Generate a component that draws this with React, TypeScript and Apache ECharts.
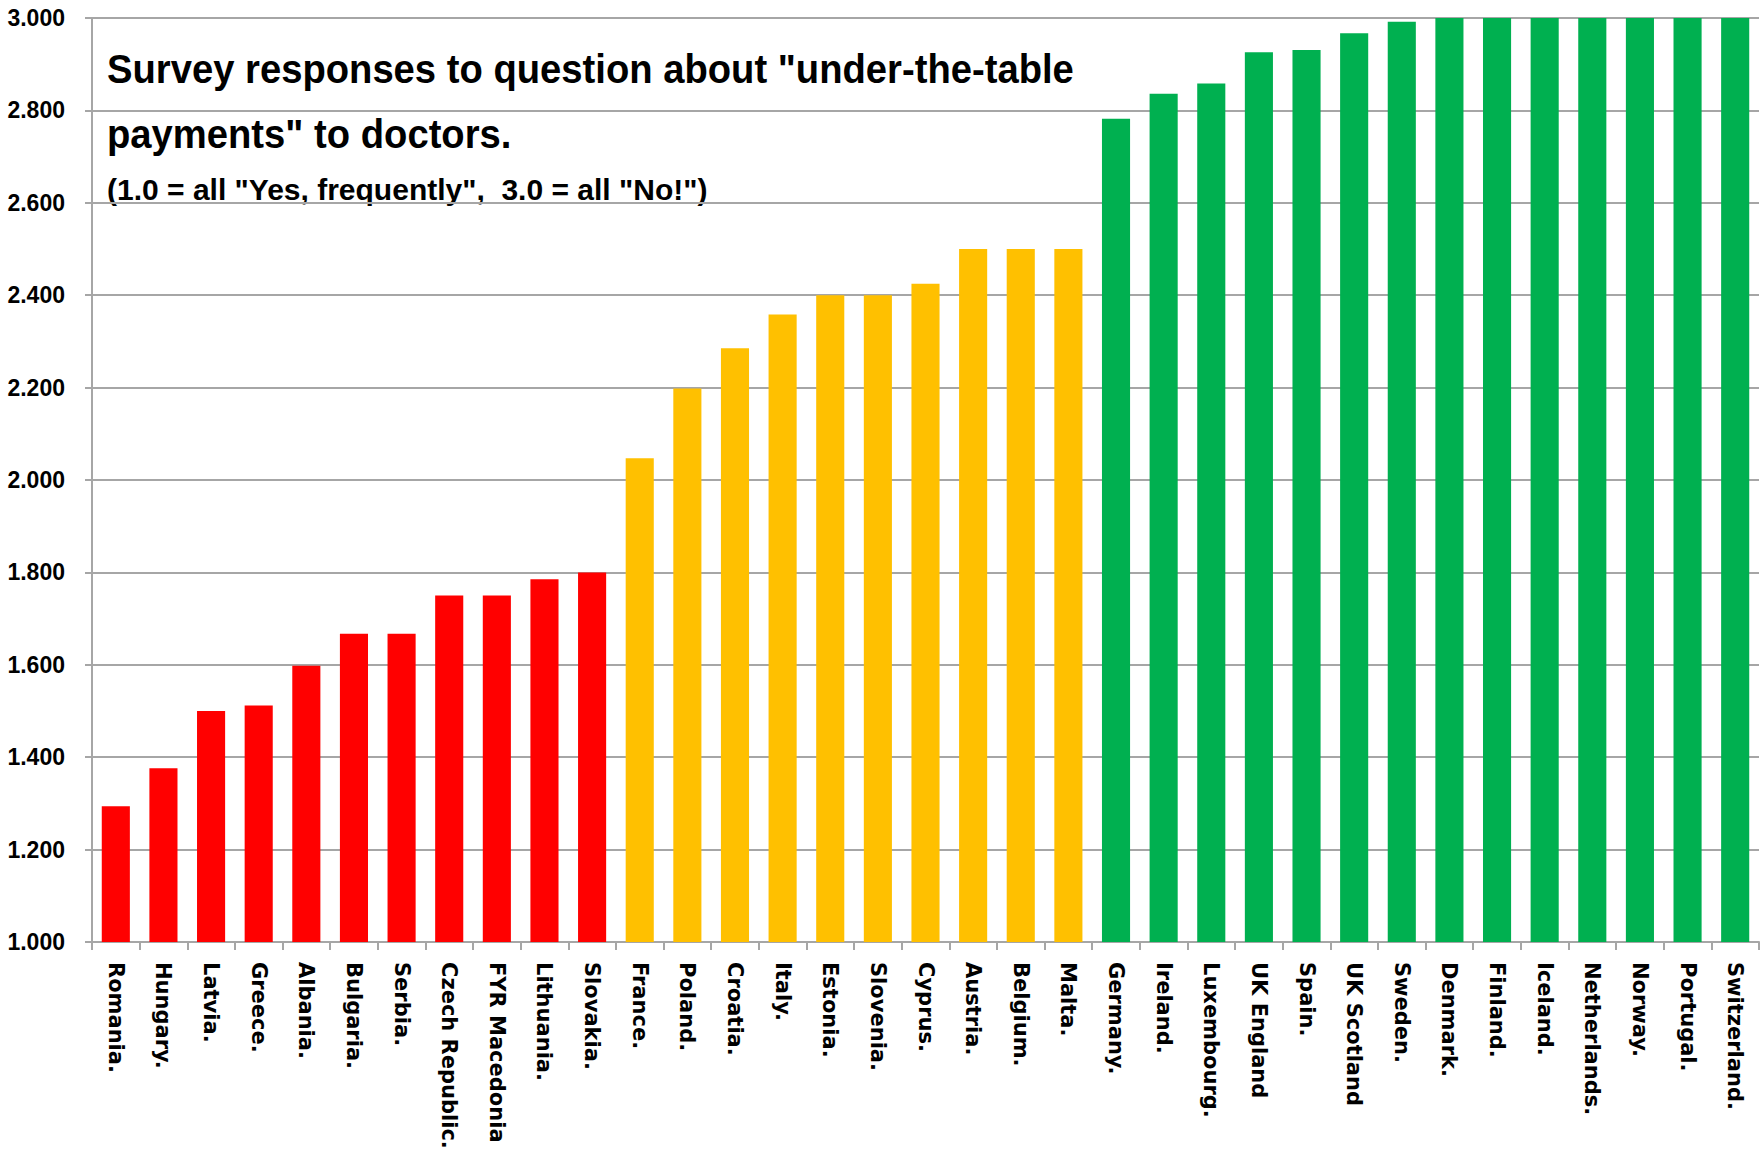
import React, { useEffect, useRef } from "react";
import * as echarts from "echarts";

const categories = [
  "Romania.", "Hungary.", "Latvia.", "Greece.", "Albania.", "Bulgaria.", "Serbia.",
  "Czech Republic.", "FYR Macedonia", "Lithuania.", "Slovakia.",
  "France.", "Poland.", "Croatia.", "Italy.", "Estonia.", "Slovenia.", "Cyprus.",
  "Austria.", "Belgium.", "Malta.",
  "Germany.", "Ireland.", "Luxembourg.", "UK England", "Spain.", "UK Scotland",
  "Sweden.", "Denmark.", "Finland.", "Iceland.", "Netherlands.", "Norway.",
  "Portugal.", "Switzerland.",
];

const values = [
  1.294, 1.376, 1.5, 1.512, 1.598, 1.667, 1.667, 1.75, 1.75, 1.785, 1.8,
  2.047, 2.198, 2.285, 2.358, 2.4, 2.4, 2.425, 2.5, 2.5, 2.5,
  2.782, 2.836, 2.858, 2.926, 2.931, 2.967, 2.992, 3.0, 3.0, 3.0, 3.0, 3.0, 3.0, 3.0,
];

// tier of each country: 0 = red, 1 = amber, 2 = green
const tiers = [
  0, 0, 0, 0, 0, 0, 0, 0, 0, 0, 0,
  1, 1, 1, 1, 1, 1, 1, 1, 1, 1,
  2, 2, 2, 2, 2, 2, 2, 2, 2, 2, 2, 2, 2, 2,
];

const tierColors = ["#FF0000", "#FFC000", "#00B050"];

const yTicks = { min: 1, max: 3, interval: 0.2 };

const titleLines = [
  'Survey responses to question about "under-the-table',
  'payments" to doctors.',
];
const subtitle = '(1.0 = all "Yes, frequently",  3.0 = all "No!")';

const SANS = "'Liberation Sans', Arial, sans-serif";

export default function App() {
  const ref = useRef<HTMLDivElement>(null);

  useEffect(() => {
    if (!ref.current) return;
    const chart = echarts.init(ref.current, undefined, { renderer: "svg" });
    const grey = "#A6A6A6";
    chart.setOption({
      animation: false,
      backgroundColor: "#FFFFFF",
      grid: { left: 92, right: 3, top: 18, bottom: 221, containLabel: false },
      xAxis: {
        type: "category",
        data: categories,
        axisLine: { show: true, lineStyle: { color: grey, width: 2 } },
        axisTick: { show: true, length: 8, lineStyle: { color: grey, width: 2 } },
        axisLabel: {
          rotate: -90,
          interval: 0,
          margin: 20,
          color: "#000000",
          fontFamily: "'DejaVu Sans', Verdana, sans-serif",
          fontWeight: "bold",
          fontSize: 21,
        },
      },
      yAxis: {
        type: "value",
        min: yTicks.min,
        max: yTicks.max,
        interval: yTicks.interval,
        axisLine: { show: true, lineStyle: { color: grey, width: 2 } },
        axisTick: { show: true, length: 7, lineStyle: { color: grey, width: 2 } },
        splitLine: { show: true, lineStyle: { color: grey, width: 2 } },
        axisLabel: {
          margin: 27,
          color: "#000000",
          fontFamily: SANS,
          fontWeight: "bold",
          fontSize: 23,
          formatter: (v: number) => v.toFixed(3),
        },
      },
      series: [
        {
          type: "bar",
          barCategoryGap: "41%",
          data: values.map((v, i) => ({
            value: v,
            itemStyle: { color: tierColors[tiers[i]] },
          })),
        },
      ],
      graphic: [
        {
          type: "text",
          x: 107,
          y: 49,
          scaleX: 0.955,
          style: {
            text: titleLines[0],
            fill: "#000000",
            font: `bold 40px ${SANS}`,
            verticalAlign: "top",
          },
        },
        {
          type: "text",
          x: 107,
          y: 114,
          scaleX: 0.955,
          style: {
            text: titleLines[1],
            fill: "#000000",
            font: `bold 40px ${SANS}`,
            verticalAlign: "top",
          },
        },
        {
          type: "text",
          x: 107,
          y: 174,
          style: {
            text: subtitle,
            fill: "#000000",
            font: `bold 30px ${SANS}`,
            verticalAlign: "top",
          },
        },
      ],
    });
    return () => chart.dispose();
  }, []);

  return (
    <div
      ref={ref}
      style={{ position: "fixed", left: 0, top: 0, width: 1762, height: 1163, background: "#fff" }}
    />
  );
}
